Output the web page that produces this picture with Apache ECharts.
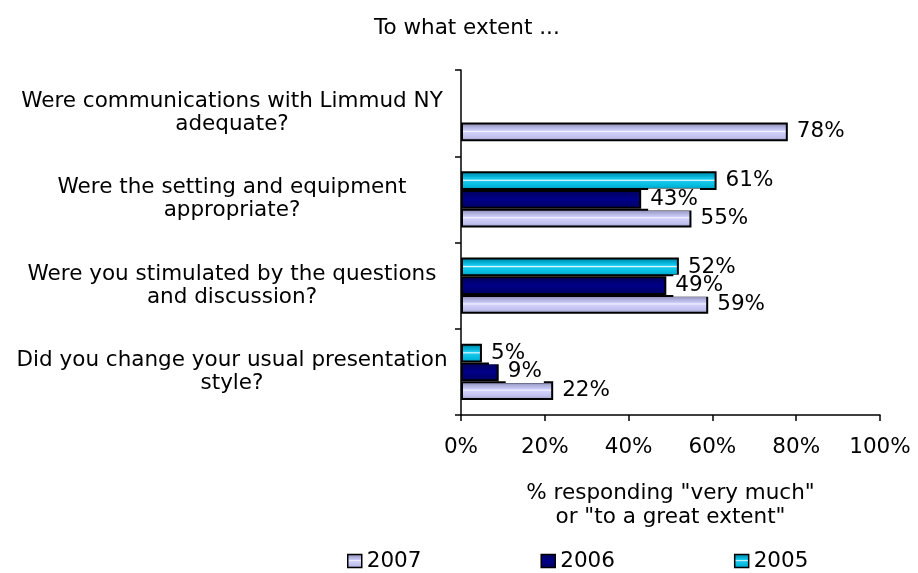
<!DOCTYPE html>
<html lang="en">
<head>
  <meta charset="UTF-8">
  <title>To what extent ...</title>
  <script src="https://cdn.jsdelivr.net/npm/echarts@6.0.0/dist/echarts.min.js"></script>
</head>
<body style="margin: 0;padding: 0;background:#fff;">
  <div id="main" style="width: 918px;height: 573px;"></div>
  <script>
    // categories listed bottom to top
    var questions = [
      'Did you change your usual presentation\nstyle?',
      'Were you stimulated by the questions\nand discussion?',
      'Were the setting and equipment\nappropriate?',
      'Were communications with Limmud NY\nadequate?'
    ];
    var years = ['2007', '2006', '2005'];
    var values2007 = [22, 59, 55, 78];
    var values2006 = [9, 49, 43, null];
    var values2005 = [5, 52, 61, null];
    var xTicks = [0, 20, 40, 60, 80, 100];

    var font = 'DejaVu Sans, Verdana, sans-serif';
    var fs = 21.5;

    function grad(stops) {
      return new echarts.graphic.LinearGradient(0, 0, 0, 1,
        stops.map(function (s) { return { offset: s[0], color: s[1] }; }));
    }
    var colors = {
      '2007': grad([[0, '#7a7aa4'], [0.2, '#a8a8d4'], [0.42, '#ccccf8'], [0.48, '#f4f4ff'], [0.54, '#d0d0fa'], [0.8, '#c0c0ec'], [1, '#9090bc']]),
      '2006': grad([[0, '#000058'], [0.5, '#000088'], [1, '#000060']]),
      '2005': grad([[0, '#007c9c'], [0.25, '#00acd0'], [0.42, '#1ccdf0'], [0.48, '#f0fcff'], [0.54, '#18c8ec'], [0.8, '#00b8dc'], [1, '#0090b0']])
    };
    var seriesValues = { '2007': values2007, '2006': values2006, '2005': values2005 };

    var myChart = echarts.init(document.getElementById('main'));
    var option = {
      animation: false,
      textStyle: { fontFamily: font },
      title: {
        text: 'To what extent ...',
        left: 369,
        top: 12,
        textStyle: { fontFamily: font, fontSize: fs, fontWeight: 'normal', color: '#000' }
      },
      legend: {
        data: years,
        left: 342,
        top: 545,
        itemWidth: 14,
        itemHeight: 13,
        itemGap: 119,
        itemStyle: { borderColor: '#000', borderWidth: 1.5 },
        textStyle: { fontFamily: font, fontSize: fs, color: '#000' },
        icon: 'rect'
      },
      grid: { left: 461, right: 38, top: 70, bottom: 158, containLabel: false },
      xAxis: {
        type: 'value',
        min: 0,
        max: 100,
        interval: 20,
        splitLine: { show: false },
        axisLine: { show: true, lineStyle: { color: '#000', width: 1.5 } },
        axisTick: { show: true, length: 6, lineStyle: { color: '#000', width: 1.5 } },
        axisLabel: {
          margin: 21,
          fontSize: fs,
          color: '#000',
          fontFamily: font,
          formatter: function (v) { return xTicks.indexOf(v) >= 0 ? v + '%' : ''; }
        },
        name: '% responding "very much"\nor "to a great extent"',
        nameLocation: 'middle',
        nameGap: 66,
        nameTextStyle: { fontSize: fs, color: '#000', fontFamily: font, lineHeight: 24 }
      },
      yAxis: {
        type: 'category',
        data: questions,
        axisLine: { show: true, lineStyle: { color: '#000', width: 1.5 } },
        axisTick: { show: true, length: 6, lineStyle: { color: '#000', width: 1.5 } },
        axisLabel: {
          align: 'center',
          margin: 229,
          fontSize: fs,
          lineHeight: 23,
          color: '#000',
          fontFamily: font
        }
      },
      // first series is drawn at the top of each band
      series: ['2005', '2006', '2007'].map(function (y) {
        return {
          name: y,
          type: 'bar',
          data: seriesValues[y],
          barGap: '0%',
          barCategoryGap: '35%',
          itemStyle: { color: colors[y], borderColor: '#000', borderWidth: 2 },
          label: {
            show: true,
            position: 'right',
            distance: 7,
            formatter: '{c}%',
            fontSize: fs,
            color: '#000',
            fontFamily: font,
            backgroundColor: '#fff',
            padding: [0, 2, 0, 2]
          }
        };
      })
    };
    myChart.setOption(option);
  </script>
</body>
</html>
